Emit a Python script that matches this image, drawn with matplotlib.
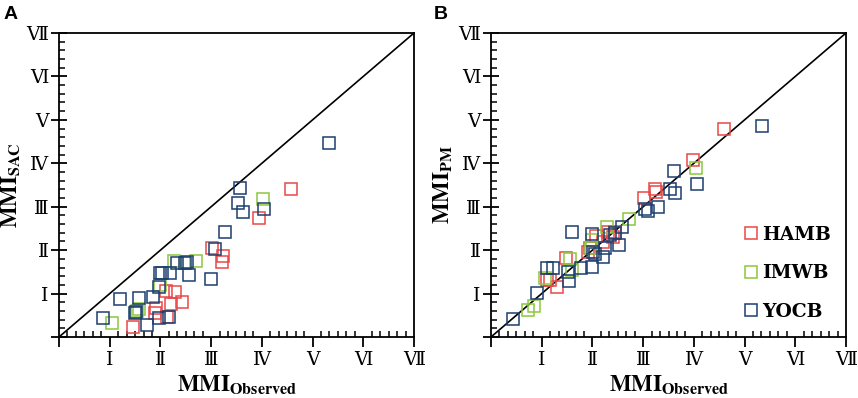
import numpy as np
import matplotlib
matplotlib.use("Agg")
import matplotlib.pyplot as plt
from matplotlib.ticker import MultipleLocator

plt.rcParams['font.family'] = ['DejaVu Serif']
plt.rcParams['mathtext.fontset'] = 'stix'

# tick labels (Roman MMI levels)
roman = ['', 'Ⅰ', 'Ⅱ', 'Ⅲ', 'Ⅳ', 'Ⅴ', 'Ⅵ', 'Ⅶ']
series = ['HAMB', 'IMWB', 'YOCB']
colors = ['#E84848', '#8DC63F', '#1B3F6E']

# panel A : observed vs SAC
hamb_obs_a = [1.45, 1.92, 1.89, 2.12, 2.10, 2.29, 2.21, 2.42, 3.02, 3.23, 3.21, 3.95, 4.58]
hamb_sac = [0.24, 0.66, 0.55, 0.47, 1.07, 1.03, 0.75, 0.80, 2.04, 1.87, 1.73, 2.73, 3.41]
imwb_obs_a = [1.05, 1.54, 1.99, 2.27, 2.71, 4.02, 1.57]
imwb_sac = [0.32, 0.60, 1.20, 1.75, 1.75, 3.17, 0.65]
yocb_obs_a = [0.87, 1.21, 1.58, 1.86, 1.50, 1.52, 1.74, 1.97, 2.16, 1.98, 1.99, 2.03, 2.19,
              2.32, 2.48, 2.53, 2.56, 3.00, 3.08, 3.28, 3.52, 3.62, 4.04, 3.56, 5.32]
yocb_sac = [0.43, 0.87, 0.89, 0.91, 0.56, 0.58, 0.28, 0.44, 0.47, 1.16, 1.47, 1.47, 1.47,
            1.70, 1.70, 1.72, 1.42, 1.34, 2.03, 2.42, 3.09, 2.87, 2.95, 3.44, 4.47]

# panel B : observed vs PM
hamb_obs_b = [1.30, 1.10, 1.17, 1.48, 1.92, 2.08, 2.21, 2.31, 2.45, 3.02, 3.23, 3.25, 3.98, 4.60, 1.95, 2.40]
hamb_pm = [1.14, 1.31, 1.31, 1.83, 1.95, 2.33, 2.19, 2.42, 2.42, 3.21, 3.41, 3.33, 4.08, 4.79, 2.05, 2.30]
imwb_obs_b = [0.72, 0.85, 1.06, 1.56, 1.59, 2.00, 2.28, 2.73, 4.04, 1.97]
imwb_pm = [0.62, 0.71, 1.37, 1.79, 1.54, 2.23, 2.54, 2.72, 3.88, 2.05]
yocb_obs_b = [0.44, 0.90, 1.10, 1.23, 1.51, 1.53, 1.77, 2.00, 1.60, 2.00, 2.02, 2.05, 2.20,
              2.24, 2.35, 2.52, 2.58, 3.04, 3.10, 3.30, 3.60, 4.06, 5.34, 3.53, 3.63, 2.45]
yocb_pm = [0.41, 1.01, 1.58, 1.60, 1.49, 1.29, 1.58, 1.62, 2.42, 2.37, 1.96, 1.90, 1.85,
           2.04, 2.35, 2.12, 2.53, 2.94, 2.89, 2.99, 3.82, 3.52, 4.86, 3.41, 3.31, 2.40]


def style_axes(ax, ylabel):
	ax.set_xlim(0, 7)
	ax.set_ylim(0, 7)
	ax.plot([0, 7], [0, 7], color='black', lw=1.2, zorder=1)
	for sp in ax.spines.values():
		sp.set_linewidth(1.3)
	ax.set_xticks(range(8))
	ax.set_yticks(range(8))
	ax.set_xticklabels(roman, fontsize=13.5)
	ax.set_yticklabels(roman, fontsize=13.5)
	ax.xaxis.set_minor_locator(MultipleLocator(1 / 6))
	ax.yaxis.set_minor_locator(MultipleLocator(0.2))
	ax.tick_params(axis='x', which='major', direction='out', length=7, width=1.3, pad=3)
	ax.tick_params(axis='y', which='major', direction='inout', length=11, width=1.3, pad=2)
	ax.tick_params(which='minor', direction='in', length=4, width=1.1)
	ax.set_xlabel(r'$\mathbf{MMI}_{\mathbf{Observed}}$', fontsize=16.5, labelpad=3)
	ax.set_ylabel(ylabel, fontsize=16.5, labelpad=3)


fig = plt.figure(figsize=(8.58, 3.98), dpi=100)
ax_a = fig.add_axes([59 / 858, 61 / 398, 355 / 858, 304 / 398])
ax_b = fig.add_axes([491 / 858, 61 / 398, 355 / 858, 304 / 398])

kw = dict(marker='s', linestyle='none', markerfacecolor='none', markersize=8, markeredgewidth=1.1)
data_a = [(hamb_obs_a, hamb_sac), (imwb_obs_a, imwb_sac), (yocb_obs_a, yocb_sac)]
data_b = [(hamb_obs_b, hamb_pm), (imwb_obs_b, imwb_pm), (yocb_obs_b, yocb_pm)]
for (x, y), c, name in zip(data_a, colors, series):
	ax_a.plot(x, y, color=c, markeredgecolor=c, label=name, **kw)
for (x, y), c, name in zip(data_b, colors, series):
	ax_b.plot(x, y, color=c, markeredgecolor=c, label=name, **kw)

style_axes(ax_a, r'$\mathbf{MMI}_{\mathbf{SAC}}$')
style_axes(ax_b, r'$\mathbf{MMI}_{\mathbf{PM}}$')

leg = ax_b.legend(loc='center right', bbox_to_anchor=(1.0, 0.21), frameon=False,
                  prop={'family': 'DejaVu Serif', 'weight': 'bold', 'size': 13.5},
                  handlelength=0.6, handletextpad=0.3, labelspacing=1.1, borderaxespad=0.4)

fig.text(0.004, 0.985, 'A', fontsize=14, fontweight='bold', family='Liberation Sans', va='top')
fig.text(0.505, 0.985, 'B', fontsize=14, fontweight='bold', family='Liberation Sans', va='top')

fig.savefig('out.png', dpi=100)
